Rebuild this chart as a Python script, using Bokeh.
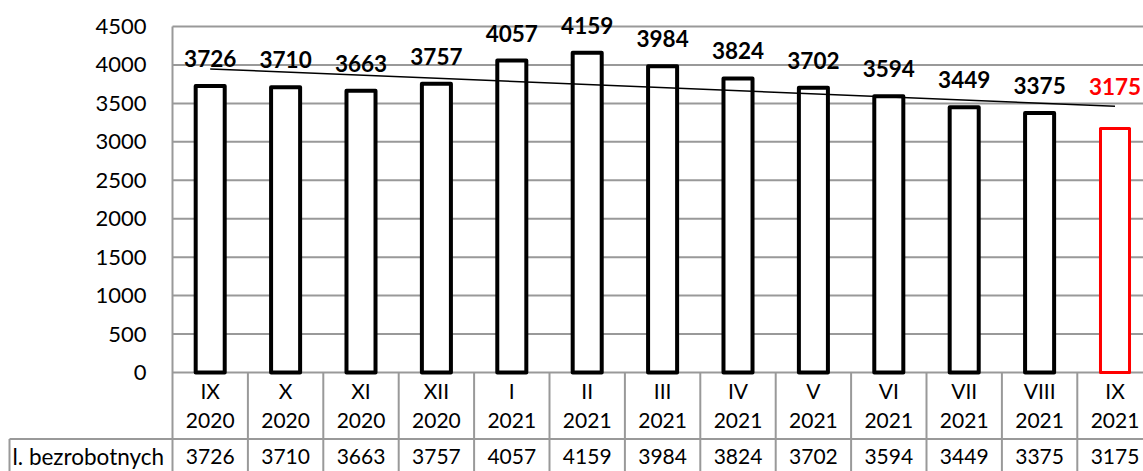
import numpy as np
from bokeh.plotting import figure
from bokeh.models import Range1d, FixedTicker, ColumnDataSource
from bokeh.core.properties import value
from bokeh.embed import file_html
from bokeh.resources import INLINE

# ---- data ----
months = ["IX", "X", "XI", "XII", "I", "II", "III", "IV", "V", "VI", "VII", "VIII", "IX"]
years = ["2020", "2020", "2020", "2020", "2021", "2021", "2021", "2021", "2021", "2021", "2021", "2021", "2021"]
counts = [3726, 3710, 3663, 3757, 4057, 4159, 3984, 3824, 3702, 3594, 3449, 3375, 3175]
row_label = "l. bezrobotnych"
y_ticks = [0, 500, 1000, 1500, 2000, 2500, 3000, 3500, 4000, 4500]

FONT = "Lato"
GRID = "#999999"
RED = "#ff0000"

n = len(counts)
xs = list(range(n))
W, H = 1143, 471
s = 75.4                  # px per category
k = 4500 / 346.0          # data units per px
X0 = 172                  # px of plot-area left edge
Y0 = 372                  # px of zero line

x_start = -0.5 - X0 / s
x_end = -0.5 + (W - X0) / s

p = figure(width=W, height=H, output_backend="svg", toolbar_location=None,
           x_range=Range1d(x_start, x_end),
           y_range=Range1d(-(H - Y0) * k, Y0 * k),
           min_border_left=0, min_border_right=0, min_border_top=0, min_border_bottom=0)
p.outline_line_color = None
p.xaxis.visible = False
p.grid.visible = False
p.background_fill_color = "white"
p.border_fill_color = "white"
ya = p.yaxis[0]
ya.fixed_location = -0.5
ya.ticker = FixedTicker(ticks=y_ticks)
ya.axis_line_color = None
ya.major_tick_line_color = None
ya.minor_tick_line_color = None
ya.major_tick_out = 0
ya.major_tick_in = 0
ya.major_label_standoff = 26
ya.major_label_text_font = FONT
ya.major_label_text_font_size = "22px"
ya.major_label_text_color = "#000000"

y_bottom = -(H - Y0 + 10) * k
row_y = -66.5 * k
# gridlines
p.segment(x0=[-0.5] * len(y_ticks), x1=[x_end + 1] * len(y_ticks), y0=y_ticks, y1=y_ticks,
          line_color=GRID, line_width=2)
# left border of plot area
p.segment(x0=[-0.5], x1=[-0.5], y0=[max(y_ticks)], y1=[y_bottom], line_color=GRID, line_width=2)
# table column lines
bx = [i + 0.5 for i in range(n)]
p.segment(x0=bx, x1=bx, y0=[0] * n, y1=[y_bottom] * n, line_color=GRID, line_width=2)
# data row: top line and left border
left_edge = -0.5 - 163 / s
p.segment(x0=[left_edge], x1=[x_end + 1], y0=[row_y], y1=[row_y], line_color=GRID, line_width=2)
p.segment(x0=[left_edge], x1=[left_edge], y0=[row_y], y1=[y_bottom], line_color=GRID, line_width=2)

# bars
bar_colors = ["black"] * (n - 1) + [RED]
bar_lw = [4] * (n - 1) + [3]
src = ColumnDataSource(dict(x=xs, top=counts, c=bar_colors, lw=bar_lw))
p.vbar(x="x", top="top", bottom=0, width=0.385, source=src, fill_color="white",
       line_color="c", line_width="lw", line_join="round")

# trend line
coef = np.polyfit(xs, counts, 1)
tx = [xs[0], xs[-1]]
p.line(x=tx, y=[coef[0] * t + coef[1] for t in tx], line_color="black", line_width=1.5)

# bar labels
lab_y = [v + 27.5 * k for v in counts[:-1]]
p.text(x=xs[:-1], y=lab_y, text=[str(v) for v in counts[:-1]], text_align="center",
       text_baseline="middle", text_font=value(FONT), text_font_style="bold",
       text_font_size="22.5px", text_color="black")
p.text(x=[xs[-1]], y=[counts[-1] + 42 * k], text=[str(counts[-1])], text_align="center",
       text_baseline="middle", text_font=value(FONT), text_font_style="bold",
       text_font_size="22.5px", text_color=RED)

# category row
p.text(x=xs, y=[-18 * k] * n, text=months, text_align="center", text_baseline="middle",
       text_font=value(FONT), text_font_size="21px", text_color="black")
p.text(x=xs, y=[-48 * k] * n, text=years, text_align="center", text_baseline="middle",
       text_font=value(FONT), text_font_size="21px", text_color="black")

# data row
p.text(x=[-0.5 - 160 / s], y=[-84 * k], text=[row_label], text_align="left", text_baseline="middle",
       text_font=value(FONT), text_font_size="22.5px", text_color="black")
p.text(x=xs, y=[-84 * k] * n, text=[str(v) for v in counts], text_align="center",
       text_baseline="middle", text_font=value(FONT), text_font_size="21px", text_color="black")

open("out.html", "w").write(file_html(p, INLINE))
